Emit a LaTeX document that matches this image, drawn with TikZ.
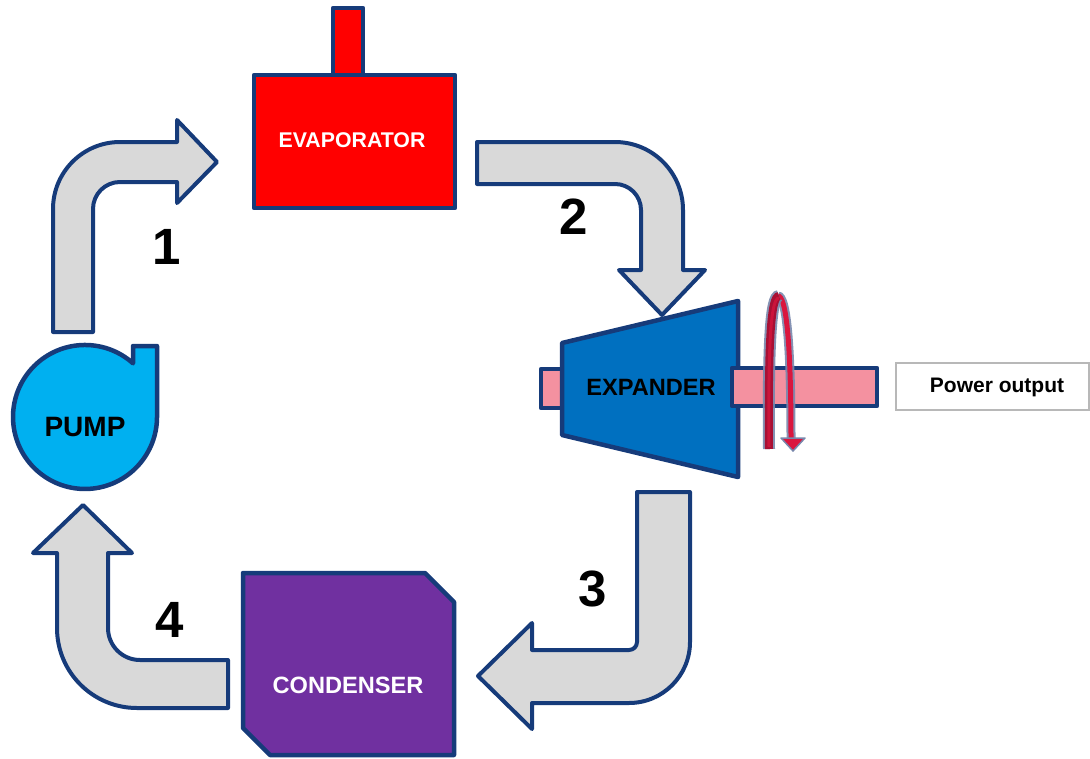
\documentclass[tikz,border=0pt]{standalone}
\usepackage{fontspec}
\setmainfont{Liberation Sans}
\definecolor{edgeblue}{RGB}{22,59,122}
\definecolor{arrowgrey}{RGB}{217,217,217}
\definecolor{evapred}{RGB}{255,0,0}
\definecolor{expblue}{RGB}{0,112,192}
\definecolor{condpurple}{RGB}{112,48,160}
\definecolor{pumpblue}{RGB}{0,176,240}
\definecolor{shaftpink}{RGB}{244,145,160}
\definecolor{ribbonedge}{RGB}{120,135,172}
\definecolor{ribbondark}{RGB}{168,16,52}
\definecolor{ribbonlight}{RGB}{218,22,62}
\begin{document}
\begin{tikzpicture}[x=1pt,y=-1pt,
  block/.style={fill=arrowgrey, draw=edgeblue, line width=4pt, line join=round},
  unitbox/.style={draw=edgeblue, line width=4.5pt, line join=round},
  lbl/.style={font=\bfseries, inner sep=0pt},
  numlbl/.style={font=\bfseries\fontsize{51}{56}\selectfont, inner sep=0pt}]
\useasboundingbox (0,0) rectangle (1090,758);

% arrow 1 (pump -> evaporator)
\draw[block] (53,332) -- (53,209) arc[start angle=180, end angle=270, radius=67]
  -- (177,142) -- (177,120) -- (217,162) -- (177,203) -- (177,182) -- (120,182)
  arc[start angle=270, end angle=180, radius=27] -- (93,332) -- cycle;
% arrow 2 (evaporator -> expander)
\draw[block] (477,142) -- (615,142) arc[start angle=270, end angle=360, radius=68]
  -- (683,270) -- (705,270) -- (662,315) -- (619,270) -- (641,270) -- (641,210)
  arc[start angle=0, end angle=-90, radius=26] -- (477,184) -- cycle;
% arrow 3 (expander -> condenser)
\draw[block] (637,492) -- (690,492) -- (690,642) arc[start angle=0, end angle=90, radius=61]
  -- (532,703) -- (532,729) -- (478,676) -- (532,623) -- (532,650) -- (629,650)
  arc[start angle=90, end angle=0, radius=8] -- cycle;
% arrow 4 (condenser -> pump)
\draw[block] (228,660) -- (140,660) arc[start angle=90, end angle=180, radius=32]
  -- (108,553) -- (132,553) -- (83,505) -- (33,553) -- (57,553) -- (57,628)
  arc[start angle=180, end angle=90, radius=80] -- (228,708) -- cycle;

% evaporator
\draw[unitbox, fill=evapred] (333,8) rectangle (363,75);
\draw[unitbox, fill=evapred] (254,75) rectangle (455,208);
\node[lbl, text=white, font=\bfseries\fontsize{21.3}{25}\selectfont] (evap) at (352,140) {EVAPORATOR};

% pump
\draw[unitbox, fill=pumpblue] (157,417) -- (157,346) -- (133,346) -- (133,363.3)
  arc[start angle=-48.2, end angle=-360, radius=72] -- cycle;
\node[lbl, font=\bfseries\fontsize{28}{32}\selectfont] (pump) at (85,427) {PUMP};

% expander
\draw[unitbox, fill=shaftpink] (541,369) rectangle (566,408);
\draw[unitbox, fill=expblue] (562,343) -- (738,301) -- (738,477) -- (562,435) -- cycle;
\draw[unitbox, fill=shaftpink] (732,368) rectangle (877,406);
\node[lbl, font=\bfseries\fontsize{23.6}{28}\selectfont] (exp) at (651,387) {EXPANDER};

% rotation ribbon: right strand, then left strand on top
\draw[ribbonedge, line width=9pt, opacity=0.9] (778,296) .. controls (786,296) and (791,340) .. (791,439);
\draw[ribbonlight, line width=5pt] (778,296) .. controls (786,296) and (791,340) .. (791,440);
\draw[ribbonedge, line width=1.5pt, fill=ribbonlight, line join=round] (781,438) -- (805,438) -- (793,451) -- cycle;
\draw[ribbonedge, line width=12pt, opacity=0.9] (769,449) .. controls (768,340) and (771,296) .. (779,296);
\draw[ribbondark, line width=8pt] (769,449) .. controls (768,340) and (771,296) .. (779,296);
\draw[ribbonlight!70!ribbondark, line width=3pt] (769,447) .. controls (768,340) and (771,298) .. (779,298);

% condenser
\draw[unitbox, fill=condpurple] (243,573) -- (425,573) -- (454,602) -- (454,755) -- (270,755) -- (243,728) -- cycle;
\node[lbl, text=white, font=\bfseries\fontsize{23.6}{28}\selectfont] (cond) at (348,685) {CONDENSER};

% power output
\draw[draw=black!28, line width=1.5pt] (896,363) rectangle (1089,410);
\node[lbl, font=\bfseries\fontsize{21}{25}\selectfont, anchor=base] (power) at (997,392) {Power output};

% numbers
\node[numlbl] (n1) at (167,247) {1};
\node[numlbl] (n2) at (574,217) {2};
\node[numlbl] (n3) at (593,589) {3};
\node[numlbl] (n4) at (170,620) {4};
\end{tikzpicture}
\end{document}
